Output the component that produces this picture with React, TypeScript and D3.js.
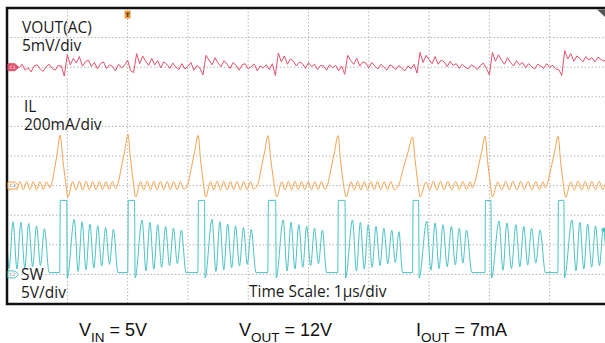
import React, { useRef, useEffect } from 'react';
import * as d3 from 'd3';

// scope settings: 10 divisions of 1 µs, 10 vertical divisions
const timeDomain = [0, 10];
const channelNames = ['VOUT(AC)', 'IL', 'SW'];
const channelUnits = ['5mV/div', '200mA/div', '5V/div'];
const channelPerDiv = [5, 200, 5]; // mV, mA, V per division
const channelOffsetDiv = [3, -1, -4];
const channelTags = ['C1', 'C3', 'C2'];
const footerLabels = [
  { main: 'V', sub: 'IN', rest: ' = 5V' },
  { main: 'V', sub: 'OUT', rest: ' = 12V' },
  { main: 'I', sub: 'OUT', rest: ' = 7mA' },
];

// VOUT (AC) samples in mV, one every 0.05 µs
const voutStep = 0.05;
const voutMv = [
  -0.3, 0.2, -0.6, 0.3, -0.1, 0.5, -0.5, -0.1, -0.8, 0.2, 0.4, -0.3, -0.7, 0.1, 0.5, -0.2, -0.5, 0.3, 0.2,
  -1.5, 2.1,
  0.4, 1.5, 0.7, 1.8, 0.2, 0.9, 1.2, 0.1, 0.8, -0.3, 0.6, 0.9, -0.2, 0.4, 0.1, -0.6, 0.5, -0.1, 0.3, 1.2, -0.6,
  -0.9, 2.3,
  0.6, 1.9, 1.0, 0.3, 1.5, 0.4, 1.1, -0.1, 0.9, 0.5, -0.2, 0.7, 0.0, -0.4, 0.6, -0.3, 0.1, 0.8, -0.5, 0.3, -0.2,
  -1.3, 2.0,
  1.2, 0.4, 1.6, 0.7, 0.1, 1.1, 0.5, -0.2, 0.8, 0.3, -0.5, 0.4, 0.6, -0.3, 0.1, 0.5, -0.6, 0.2, -0.1, 0.4, -0.4, 0.6,
  -1.4, 2.4,
  0.9, 1.9, 0.5, 1.4, 1.0, 0.2, 0.9, 0.6, -0.2, 0.8, 0.1, 0.5, -0.4, 0.3, 0.2, -0.5, 0.4, -0.1, 0.3, -0.6, 0.2,
  -1.2, 2.0,
  1.1, 0.5, 1.5, 0.2, 0.9, 0.7, -0.1, 0.8, 0.2, -0.3, 0.5, 0.0, -0.5, 0.4, 0.1, -0.4, 0.3, -0.2, -0.6, 0.2, -0.3, 0.5,
  -1.0, 2.5,
  0.8, 2.0, 1.3, 0.6, 1.8, 0.5, 1.2, 0.9, 0.1, 1.0, 0.3, 0.6, -0.2, 0.5, 0.0, -0.3, 0.4, 0.1, -0.4, 0.3, 0.7, -0.2,
  -1.3, 2.5,
  1.0, 2.1, 1.2, 0.5, 1.6, 0.8, 0.2, 1.1, 0.4, 0.8, -0.1, 0.6, 0.1, -0.3, 0.5, 0.2, -0.2, 0.6, 0.0, 0.3, -0.3, -0.4,
  -1.4, 2.8,
  1.4, 2.3, 1.0, 1.9, 1.5, 0.9, 1.8, 1.2, 1.6, 0.9, 1.7, 1.3, 1.0, 1.6, 1.3,
];

// inductor current vertices [µs, mA]
const ilPoints: [number, number][] = [
  [0, -5], [0.05, -28], [0.105, 25], [0.16, -28], [0.215, 27], [0.27, -28], [0.325, 27], [0.38, -28],
  [0.435, 27], [0.49, -28], [0.545, 27], [0.6, -27], [0.655, 26], [0.71, -15],
  [0.74, 12], [0.79, 115], [0.835, 225], [0.879, 340], [0.93, 160], [0.97, 30], [1.01, -77],
  [1.09, 26], [1.145, -30], [1.2, 30], [1.255, -30], [1.31, 29], [1.365, -29], [1.42, 28], [1.475, -28],
  [1.53, 28], [1.585, -28], [1.64, 27], [1.695, -27], [1.75, 27], [1.8, -20],
  [1.84, 12], [1.895, 120], [1.95, 230], [2.007, 345], [2.05, 175], [2.09, 40], [2.135, -77],
  [2.215, 26], [2.27, -30], [2.325, 30], [2.38, -30], [2.435, 29], [2.49, -29], [2.545, 28], [2.6, -28],
  [2.655, 28], [2.71, -28], [2.765, 27], [2.82, -27], [2.875, 27], [2.93, -25],
  [3.0, 10], [3.057, 120], [3.113, 230], [3.17, 340], [3.21, 175], [3.25, 40], [3.295, -77],
  [3.375, 26], [3.43, -30], [3.485, 30], [3.54, -30], [3.595, 29], [3.65, -29], [3.705, 28], [3.76, -28],
  [3.815, 28], [3.87, -28], [3.925, 27], [3.98, -27], [4.035, 27], [4.09, -25],
  [4.16, 10], [4.217, 120], [4.273, 230], [4.33, 338], [4.375, 175], [4.42, 40], [4.475, -77],
  [4.555, 26], [4.61, -30], [4.665, 30], [4.72, -30], [4.775, 29], [4.83, -29], [4.885, 28], [4.94, -28],
  [4.995, 28], [5.05, -28], [5.105, 27], [5.16, -27], [5.215, 27], [5.27, -25],
  [5.32, 10], [5.377, 120], [5.433, 230], [5.49, 338], [5.53, 175], [5.57, 40], [5.625, -77],
  [5.705, 26], [5.76, -30], [5.815, 30], [5.87, -30], [5.925, 29], [5.98, -29], [6.035, 28], [6.09, -28],
  [6.145, 28], [6.2, -28], [6.255, 27], [6.31, -27], [6.365, 27], [6.42, -28],
  [6.5, 8], [6.57, 115], [6.65, 225], [6.725, 328], [6.77, 165], [6.81, 30], [6.85, -77],
  [6.95, 25], [7.01, -30], [7.07, 30], [7.13, -30], [7.19, 29], [7.25, -29], [7.31, 28], [7.375, -28],
  [7.44, 28], [7.5, -28], [7.56, 27], [7.62, -27], [7.68, 26], [7.72, -15],
  [7.75, 10], [7.81, 115], [7.87, 225], [7.93, 333], [7.97, 165], [8.01, 30], [8.05, -77],
  [8.14, 25], [8.205, -30], [8.27, 30], [8.33, -30], [8.39, 29], [8.455, -29], [8.52, 28], [8.58, -28],
  [8.64, 28], [8.705, -28], [8.77, 27], [8.83, -27], [8.89, 26], [8.93, -15],
  [8.96, 10], [9.02, 115], [9.08, 225], [9.14, 333], [9.18, 165], [9.22, 30], [9.265, -80],
  [9.35, 25], [9.41, -30], [9.47, 30], [9.53, -30], [9.59, 29], [9.645, -29], [9.7, 28], [9.76, -28],
  [9.82, 28], [9.88, -28], [9.94, 27], [10.0, -20],
];

// switch node vertices [µs, V]
const swPoints: [number, number][] = [
  [0, 5.5], [0.035, 1.0], [0.1, 8.9], [0.165, 0.9], [0.23, 8.8], [0.295, 1.1], [0.36, 8.6], [0.425, 1.3],
  [0.49, 8.2], [0.555, 1.5], [0.62, 7.7], [0.7, 0.3],
  [0.874, 0.3], [0.884, 12.5], [0.99, 12.5], [1.0, -0.6],
  [1.115, 9.3], [1.18, 0.5], [1.245, 8.9], [1.31, 0.8], [1.375, 8.5], [1.44, 1.1], [1.505, 8.2], [1.57, 1.4],
  [1.635, 7.9], [1.7, 1.7], [1.765, 7.6], [1.84, 0.3],
  [2.002, 0.3], [2.012, 12.5], [2.115, 12.5], [2.125, -0.6],
  [2.24, 9.2], [2.305, 0.6], [2.37, 8.8], [2.435, 0.9], [2.5, 8.4], [2.565, 1.2], [2.63, 8.1], [2.695, 1.5],
  [2.76, 7.8], [2.825, 1.8], [2.89, 7.5], [2.97, 0.3],
  [3.165, 0.3], [3.175, 12.5], [3.275, 12.5], [3.285, -0.6],
  [3.4, 9.3], [3.465, 0.5], [3.53, 8.9], [3.595, 0.8], [3.66, 8.5], [3.725, 1.1], [3.79, 8.2], [3.855, 1.4],
  [3.92, 7.9], [3.985, 1.7], [4.05, 7.6], [4.13, 0.3],
  [4.325, 0.3], [4.335, 12.5], [4.455, 12.5], [4.465, -0.6],
  [4.58, 9.2], [4.645, 0.6], [4.71, 8.8], [4.775, 0.9], [4.84, 8.4], [4.905, 1.2], [4.97, 8.1], [5.035, 1.5],
  [5.1, 7.8], [5.165, 1.8], [5.23, 7.5], [5.3, 0.3],
  [5.485, 0.3], [5.495, 12.5], [5.605, 12.5], [5.615, -0.6],
  [5.73, 9.2], [5.795, 0.6], [5.86, 8.8], [5.925, 0.9], [5.99, 8.4], [6.055, 1.2], [6.12, 8.1], [6.185, 1.5],
  [6.25, 7.8], [6.315, 1.8], [6.38, 7.5], [6.44, 2.0], [6.5, 7.2], [6.56, 0.3],
  [6.725, 0.3], [6.735, 12.5], [6.825, 12.5], [6.835, -0.6],
  [6.96, 9.0], [7.03, 0.7], [7.1, 8.7], [7.165, 1.0], [7.23, 8.4], [7.3, 1.3], [7.37, 8.1], [7.435, 1.6],
  [7.5, 7.8], [7.56, 1.9], [7.62, 7.5], [7.71, 0.3],
  [7.925, 0.3], [7.935, 12.5], [8.025, 12.5], [8.035, -0.6],
  [8.16, 9.0], [8.225, 0.7], [8.29, 8.7], [8.365, 1.0], [8.44, 8.4], [8.505, 1.3], [8.57, 8.1], [8.635, 1.6],
  [8.7, 7.8], [8.77, 1.9], [8.84, 7.5], [8.93, 0.3],
  [9.135, 0.3], [9.145, 12.5], [9.235, 12.5], [9.245, -0.6],
  [9.37, 9.2], [9.435, 0.6], [9.5, 8.8], [9.565, 0.9], [9.63, 8.5], [9.695, 1.2], [9.76, 8.2], [9.825, 1.5],
  [9.89, 7.9], [9.955, 1.8], [10.0, 5.0],
];

const triggerTime = 2.0;

const App: React.FC = () => {
  const svgRef = useRef<SVGSVGElement | null>(null);

  useEffect(() => {
    const svg = d3.select(svgRef.current);
    svg.selectAll('*').remove();
    const width = 605;
    const height = 343;
    const frame = { left: 7, top: 8, right: 610, bottom: 304 };

    svg.attr('width', width).attr('height', height).style('background', '#fff');

    const x = d3.scaleLinear().domain(timeDomain).range([frame.left, frame.right]);
    const yDiv = d3.scaleLinear().domain([-5, 5]).range([frame.bottom, frame.top]);
    const chY = (ch: number) => (v: number) => yDiv(channelOffsetDiv[ch] + v / channelPerDiv[ch]);

    // clip for traces
    svg.append('defs').append('clipPath').attr('id', 'screen')
      .append('rect')
      .attr('x', frame.left).attr('y', frame.top)
      .attr('width', width - frame.left).attr('height', frame.bottom - frame.top);

    // dotted grid
    const grid = svg.append('g').attr('stroke', '#b5b5b5').attr('stroke-width', 1).attr('stroke-dasharray', '1.5,2');
    d3.range(1, 10).forEach(k => {
      grid.append('line')
        .attr('x1', x(k)).attr('x2', x(k))
        .attr('y1', frame.top).attr('y2', frame.bottom);
    });
    d3.range(-4, 5).forEach(k => {
      grid.append('line')
        .attr('x1', frame.left).attr('x2', width)
        .attr('y1', yDiv(k)).attr('y2', yDiv(k));
    });

    const traces = svg.append('g').attr('clip-path', 'url(#screen)').attr('fill', 'none');

    const voutLine = d3.line<number>()
      .x((_, i) => x(i * voutStep))
      .y(d => chY(0)(d));
    traces.append('path')
      .attr('d', voutLine(voutMv))
      .attr('stroke', '#e2516f').attr('stroke-width', 1);

    const ilLine = d3.line<[number, number]>()
      .x(d => x(d[0])).y(d => chY(1)(d[1]))
      .curve(d3.curveMonotoneX);
    traces.append('path')
      .attr('d', ilLine(ilPoints))
      .attr('stroke', '#f4a34f').attr('stroke-width', 1);

    const swLine = d3.line<[number, number]>()
      .x(d => x(d[0])).y(d => chY(2)(d[1]))
      .curve(d3.curveMonotoneX);
    traces.append('path')
      .attr('d', swLine(swPoints))
      .attr('stroke', '#49c2c4').attr('stroke-width', 1);

    // frame
    svg.append('rect')
      .attr('x', frame.left).attr('y', frame.top)
      .attr('width', frame.right - frame.left).attr('height', frame.bottom - frame.top)
      .attr('fill', 'none').attr('stroke', '#111').attr('stroke-width', 2.5);

    // channel ground tags
    const tagColors = ['#e2516f', '#f4a34f', '#49c2c4'];
    channelNames.forEach((_, ch) => {
      const cy = yDiv(channelOffsetDiv[ch]);
      const filled = ch === 0;
      svg.append('path')
        .attr('d', `M8,${cy - 3.5}H15L18.5,${cy}L15,${cy + 3.5}H8Z`)
        .attr('fill', filled ? tagColors[ch] : '#fff')
        .attr('stroke', tagColors[ch]).attr('stroke-width', 1);
      svg.append('text')
        .attr('x', 12.5).attr('y', cy + 1.8)
        .attr('text-anchor', 'middle')
        .style('font-family', 'DejaVu Sans').style('font-size', '4.5px')
        .attr('fill', filled ? '#fff' : '#666')
        .text(channelTags[ch]);
    });

    // trigger position marker
    svg.append('rect')
      .attr('x', x(triggerTime) - 3).attr('y', 10.5).attr('width', 6).attr('height', 8)
      .attr('fill', '#f29b38');
    svg.append('text')
      .attr('x', x(triggerTime)).attr('y', 17)
      .attr('text-anchor', 'middle')
      .style('font-family', 'DejaVu Sans').style('font-size', '6px').style('font-weight', 'bold')
      .attr('fill', '#333').text('T');

    // top-right marker and trigger level arrow
    svg.append('path').attr('d', 'M597,9.5H605V17Z').attr('fill', '#555');
    svg.append('path').attr('d', `M600.5,${chY(2)(7.5)}L605,${chY(2)(7.5) - 2.5}V${chY(2)(7.5) + 2.5}Z`)
      .attr('fill', '#49c2c4');

    // channel labels, two lines each
    const labelPos = [
      { x: 22, y: 33 },
      { x: 24, y: 112 },
      { x: 21, y: 280 },
    ];
    const labels = svg.append('g')
      .style('font-family', '"Open Sans", sans-serif')
      .style('font-size', '15.5px')
      .attr('fill', '#1a1a1a');
    channelNames.forEach((name, ch) => {
      const t = labels.append('text').attr('x', labelPos[ch].x).attr('y', labelPos[ch].y);
      t.append('tspan').text(name === 'SW' ? 'SW' : name);
      t.append('tspan').attr('x', labelPos[ch].x).attr('dy', 18).text(channelUnits[ch]);
    });
    labels.append('text').attr('x', 249).attr('y', 297).text('Time Scale: 1\u00b5s/div');

    // footer with subscripts
    const footerX = [79, 239, 416];
    footerLabels.forEach((f, i) => {
      const t = svg.append('text')
        .attr('x', footerX[i]).attr('y', 336)
        .style('font-family', '"Liberation Sans", Arial, sans-serif')
        .style('font-size', '18px')
        .attr('fill', '#111');
      t.append('tspan').text(f.main);
      t.append('tspan').attr('dy', 5.5).style('font-size', '13.5px').text(f.sub);
      t.append('tspan').attr('dy', -5.5).text(f.rest);
    });
  }, []);

  return <svg ref={svgRef} style={{ position: 'absolute', left: 0, top: 0 }}></svg>;
};

export default App;
